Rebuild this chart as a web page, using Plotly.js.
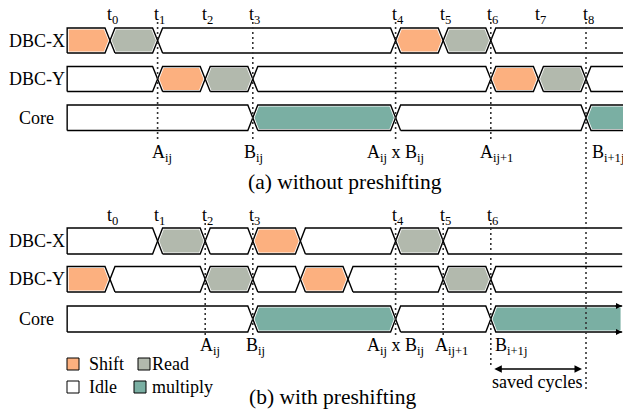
<!DOCTYPE html>
<html>
<head>
<meta charset="utf-8">
<script src="https://cdn.plot.ly/plotly-3.0.1.min.js"></script>
<style>html,body{margin:0;padding:0;background:#fff;}#chart{width:623px;height:412px;}</style>
</head>
<body>
<div id="chart"></div>
<script>
// ---------------- DATA (time in clock-cycle units, t0 = 0) ----------------
const rowNames = ['DBC-X', 'DBC-Y', 'Core'];

// (a) without preshifting
const topXBounds    = [-0.9, 0, 1, 6, 7, 8, 11.5];
const topXStates    = ['Shift', 'Read', 'Idle', 'Shift', 'Read', 'Idle'];
const topYBounds    = [-0.9, 1, 2, 3, 8, 9, 10, 11.5];
const topYStates    = ['Idle', 'Shift', 'Read', 'Idle', 'Shift', 'Read', 'Idle'];
const topCoreBounds = [-0.9, 3, 6, 10, 11.5];
const topCoreStates = ['Idle', 'multiply', 'Idle', 'multiply'];

// (b) with preshifting
const botXBounds    = [-0.9, 1, 2, 3, 4, 6, 7, 10.76];
const botXStates    = ['Idle', 'Read', 'Idle', 'Shift', 'Idle', 'Read', 'Idle'];
const botYBounds    = [-0.9, 0, 2, 3, 4, 5, 7, 8, 10.76];
const botYStates    = ['Shift', 'Idle', 'Read', 'Idle', 'Shift', 'Idle', 'Read', 'Idle'];
const botCoreBounds = [-0.9, 3, 6, 8, 10.76];
const botCoreStates = ['Idle', 'multiply', 'Idle', 'multiply'];

// time markers
const topTickTimes  = [0, 1, 2, 3, 6, 7, 8, 9, 10];
const topTickLabels = ['t<sub>0</sub>', 't<sub>1</sub>', 't<sub>2</sub>', 't<sub>3</sub>', 't<sub>4</sub>', 't<sub>5</sub>', 't<sub>6</sub>', 't<sub>7</sub>', 't<sub>8</sub>'];
const botTickTimes  = [0, 1, 2, 3, 6, 7, 8];
const botTickLabels = ['t<sub>0</sub>', 't<sub>1</sub>', 't<sub>2</sub>', 't<sub>3</sub>', 't<sub>4</sub>', 't<sub>5</sub>', 't<sub>6</sub>'];

// dotted guide times
const topGuideTimes = [1, 3, 6, 8];
const botGuideTimes = [2, 3, 6, 7, 8];
const savedEndTime  = 10;

// operand labels
const topOpTimes  = [1, 3, 6, 8, 10];
const topOpLabels = ['A<sub>ij</sub>', 'B<sub>ij</sub>', 'A<sub>ij</sub> x B<sub>ij</sub>', 'A<sub>ij+1</sub>', 'B<sub>i+1j</sub>'];
const botOpTimes  = [2, 3, 6, 7, 8];
const botOpLabels = ['A<sub>ij</sub>', 'B<sub>ij</sub>', 'A<sub>ij</sub> x B<sub>ij</sub>', 'A<sub>ij+1</sub>', 'B<sub>i+1j</sub>'];

const legendNames = ['Shift', 'Read', 'Idle', 'multiply'];
const captions = ['(a) without preshifting', '(b) with preshifting'];
const savedLabel = 'saved cycles';

// ---------------- STYLE / LAYOUT ----------------
const W = 623, H = 412;
const X0PX = 110, UNIT = 47.6;          // pixel of t0, pixels per cycle
const px2x = p => (p - X0PX) / UNIT;
const S_PX = 5;                          // slant width in px
const FONT = 'Liberation Serif, Times New Roman, serif';
const COLORS = {Shift: '#fcb07f', Read: '#b2b9ad', Idle: '#ffffff', multiply: '#7aafa3'};
const LINE = 1.4;

const fills = [];
const outlines = [];

function buildPoly(a, b, lt, rt, y0, y1, d) {
  const h = (y1 - y0) / 2, ym = (y0 + y1) / 2;
  const hh = h - d;
  const sx = (S_PX * hh / h) / UNIT;
  const tipdx = d * Math.sqrt(S_PX * S_PX + h * h) / h / UNIT;
  const flatdx = d / UNIT;
  const aa = a + (lt === 'point' ? tipdx : flatdx);
  const bb = b - (rt === 'point' ? tipdx : flatdx);
  const t0 = y0 + d, t1 = y1 - d;
  const xs = [], ys = [];
  if (lt === 'point') { xs.push(aa + sx, aa, aa + sx); ys.push(t1, ym, t0); }
  else { xs.push(aa, aa); ys.push(t1, t0); }
  if (rt === 'point') { xs.push(bb - sx, bb, bb - sx); ys.push(t0, ym, t1); }
  else { xs.push(bb, bb); ys.push(t0, t1); }
  xs.push(xs[0]); ys.push(ys[0]);
  return {xs, ys};
}

function buildOutline(a, b, lt, rt, y0, y1) {
  const ym = (y0 + y1) / 2, s = S_PX / UNIT;
  if (rt === 'open') {
    const xs = [b], ys = [y0];
    if (lt === 'point') { xs.push(a + s, a, a + s); ys.push(y0, ym, y1); }
    else { xs.push(a, a); ys.push(y0, y1); }
    xs.push(b); ys.push(y1);
    return {xs, ys};
  }
  return buildPoly(a, b, lt, rt, y0, y1, 0);
}

function addRow(bounds, states, y0, y1) {
  const n = states.length;
  for (let i = 0; i < n; i++) {
    const a = bounds[i], b = bounds[i + 1];
    const lt = i === 0 ? 'flat' : 'point';
    const rt = i === n - 1 ? 'open' : 'point';
    if (states[i] !== 'Idle') {
      const p = buildPoly(a, b, lt, rt, y0, y1, 1.6);
      fills.push({x: p.xs, y: p.ys, mode: 'lines', fill: 'toself', fillcolor: COLORS[states[i]],
        line: {width: 0}, hoverinfo: 'skip', showlegend: false});
    }
    const o = buildOutline(a, b, lt, rt, y0, y1);
    outlines.push({x: o.xs, y: o.ys, mode: 'lines', line: {color: '#000', width: LINE},
      hoverinfo: 'skip', showlegend: false});
  }
}

// row vertical extents (px)
const topRows = [[28, 53], [66.5, 91.5], [105, 130.5]];
const botRows = [[228, 254], [266.5, 292], [306, 332]];

addRow(topXBounds, topXStates, ...topRows[0]);
addRow(topYBounds, topYStates, ...topRows[1]);
addRow(topCoreBounds, topCoreStates, ...topRows[2]);
addRow(botXBounds, botXStates, ...botRows[0]);
addRow(botYBounds, botYStates, ...botRows[1]);
addRow(botCoreBounds, botCoreStates, ...botRows[2]);

// legend markers
const legPos = [[73, 364], [144, 364], [73, 387], [140, 387]];
const legendTrace = {
  x: legPos.map(p => px2x(p[0])), y: legPos.map(p => p[1]), mode: 'markers',
  marker: {symbol: 'square', size: 12, color: legendNames.map(n => COLORS[n]), line: {color: '#000', width: 1}},
  hoverinfo: 'skip', showlegend: false
};

const allTraces = fills.concat(outlines).concat([legendTrace]);

// ---------------- shapes (dotted guides) ----------------
const dot = {color: '#333', width: 1.6, dash: '2px,3px'};
const shapes = [];
topGuideTimes.forEach(t => shapes.push({type: 'line', xref: 'x', yref: 'y', x0: t, x1: t, y0: 22, y1: 140, line: dot, layer: 'above'}));
botGuideTimes.forEach(t => shapes.push({type: 'line', xref: 'x', yref: 'y', x0: t, x1: t, y0: 223, y1: t === 8 ? 366 : 337, line: dot, layer: 'above'}));
shapes.push({type: 'line', xref: 'x', yref: 'y', x0: savedEndTime, x1: savedEndTime, y0: 22, y1: 392, line: dot, layer: 'above'});

// ---------------- annotations ----------------
const ann = [];
const txt = (x, y, text, size, xanchor, xshift) => ({x, y, xref: 'x', yref: 'y', text, showarrow: false,
  font: {family: FONT, size: size, color: '#000'}, xanchor: xanchor || 'center', yanchor: 'middle', xshift: xshift || 0});

topTickTimes.forEach((t, i) => ann.push(txt(t, 15, topTickLabels[i], 18, 'center', 2)));
botTickTimes.forEach((t, i) => ann.push(txt(t, 216, botTickLabels[i], 18, 'center', 2)));

rowNames.forEach((n, i) => {
  ann.push(txt(px2x(36.5), (topRows[i][0] + topRows[i][1]) / 2, n, 18));
  ann.push(txt(px2x(36.5), (botRows[i][0] + botRows[i][1]) / 2, n, 18));
});

const topOpShift = [4, 1, 0, 6, 4];
const topOpAnchor = ['center', 'center', 'center', 'center', 'left'];
topOpTimes.forEach((t, i) => ann.push(txt(t, 153, topOpLabels[i], 18, topOpAnchor[i], topOpShift[i])));
const botOpShift = [5, 3, 0, 8, 2];
const botOpAnchor = ['center', 'center', 'center', 'center', 'left'];
botOpTimes.forEach((t, i) => ann.push(txt(t, 346, botOpLabels[i], 18, botOpAnchor[i], botOpShift[i])));

ann.push(txt(px2x(345), 182, captions[0], 21.5));
ann.push(txt(px2x(332), 397, captions[1], 21.5));

legendNames.forEach((n, i) => {
  const lx = i % 2 === 0 ? 87 : 150;
  ann.push(txt(px2x(lx), legPos[i][1], n, 18, 'left'));
});

ann.push(txt((8 + savedEndTime) / 2, 382, savedLabel, 18, 'center', -1));
ann.push({x: savedEndTime, y: 369, ax: 8, ay: 369, xref: 'x', yref: 'y', axref: 'x', ayref: 'y',
  text: '', showarrow: true, arrowside: 'end+start', arrowhead: 2, startarrowhead: 2,
  arrowsize: 1, startarrowsize: 1, arrowwidth: 1.5, arrowcolor: '#000', standoff: 4, startstandoff: 2});

// arrow tips at the end of the (b) Core lane
[botRows[2][0], botRows[2][1]].forEach(y => ann.push({x: px2x(622), y: y, xref: 'x', yref: 'y', ax: -8, ay: 0,
  text: '', showarrow: true, arrowhead: 2, arrowsize: 0.8, arrowwidth: 1.5, arrowcolor: '#000'}));

const layout = {
  width: W, height: H, margin: {l: 0, r: 0, t: 0, b: 0},
  paper_bgcolor: '#fff', plot_bgcolor: '#fff',
  xaxis: {range: [px2x(0), px2x(W)], visible: false, fixedrange: true},
  yaxis: {range: [H, 0], visible: false, fixedrange: true},
  showlegend: false, shapes: shapes, annotations: ann
};

Plotly.newPlot('chart', allTraces, layout, {staticPlot: true, displayModeBar: false});
</script>
</body>
</html>
